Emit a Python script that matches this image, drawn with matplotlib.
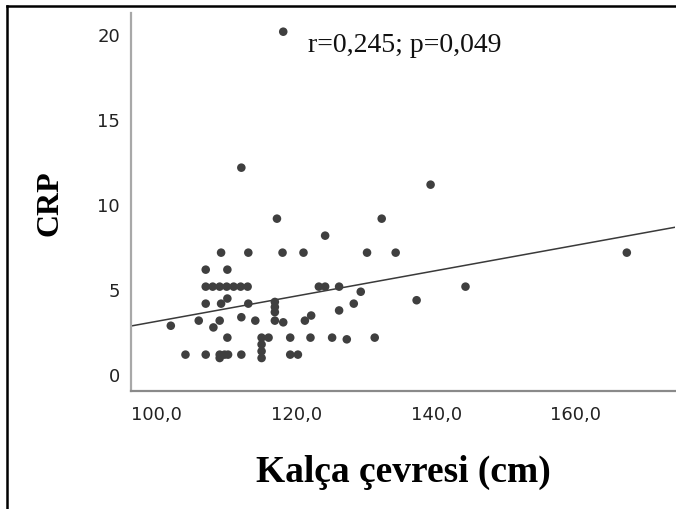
import numpy as np
import matplotlib
matplotlib.use("Agg")
import matplotlib.pyplot as plt
from matplotlib.lines import Line2D

# --- data (hip circumference vs CRP) ---
hip_cm = [
    118.1, 112.1, 139.2, 117.2, 132.2, 124.1,
    109.2, 113.1, 118.0, 121.0, 130.1, 134.2, 167.3,
    107.0, 110.1,
    107.0, 108.0, 109.0, 110.0, 111.0, 112.0, 113.0,
    123.2, 124.1, 126.1, 144.2,
    129.2, 110.1, 137.2,
    107.0, 109.2, 113.1, 116.9, 128.2, 116.9, 126.1, 116.9,
    122.1, 112.1,
    106.0, 109.0, 114.1, 116.9, 121.2, 118.1,
    102.0, 108.1,
    110.1, 115.0, 116.0, 119.1, 122.0, 125.1, 131.2, 127.2,
    115.0, 115.0,
    104.1, 107.0, 109.0, 109.7, 110.2, 112.1, 119.1, 120.2,
    109.0, 115.0,
]
crp = [
    20.2, 12.2, 11.2, 9.2, 9.2, 8.2,
    7.2, 7.2, 7.2, 7.2, 7.2, 7.2, 7.2,
    6.2, 6.2,
    5.2, 5.2, 5.2, 5.2, 5.2, 5.2, 5.2,
    5.2, 5.2, 5.2, 5.2,
    4.9, 4.5, 4.4,
    4.2, 4.2, 4.2, 4.3, 4.2, 4.0, 3.8, 3.7,
    3.5, 3.4,
    3.2, 3.2, 3.2, 3.2, 3.2, 3.1,
    2.9, 2.8,
    2.2, 2.2, 2.2, 2.2, 2.2, 2.2, 2.2, 2.1,
    1.8, 1.4,
    1.2, 1.2, 1.2, 1.2, 1.2, 1.2, 1.2, 1.2,
    1.0, 1.0,
]

x_ticks = [100, 120, 140, 160]
x_tick_labels = ["100,0", "120,0", "140,0", "160,0"]
y_ticks = [0, 5, 10, 15, 20]
stat_text = "r=0,245; p=0,049"

W, H = 676, 509
fig = plt.figure(figsize=(W / 100, H / 100), dpi=100)

# axes box in pixel terms of the reference
left, right, top, bottom = 131, 675, 13, 391
ax = fig.add_axes([left / W, 1 - bottom / H, (right - left) / W, (bottom - top) / H])
ax.set_xlim(96.3, 174.2)
ax.set_ylim(-0.94, 21.3)

ax.scatter(hip_cm, crp, s=38, color="#3f3f3f", edgecolors="none", zorder=3)

# linear fit line across the whole x range
slope, intercept = np.polyfit(hip_cm, crp, 1)
xs = np.array(ax.get_xlim())
ax.plot(xs, intercept + slope * xs, color="#3a3a3a", lw=1.1, zorder=2)

for side in ("top", "right"):
    ax.spines[side].set_visible(False)
ax.spines["left"].set_color("#a8a8a8")
ax.spines["left"].set_linewidth(1.6)
ax.spines["bottom"].set_color("#8a8a8a")
ax.spines["bottom"].set_linewidth(1.6)

ax.set_xticks(x_ticks)
ax.set_xticklabels(x_tick_labels)
ax.set_yticks(y_ticks)
ax.tick_params(axis="both", length=0, labelsize=13, labelcolor="#222222")
ax.tick_params(axis="x", pad=11)
ax.tick_params(axis="y", pad=8)

serif = ["Liberation Serif", "DejaVu Serif"]
fig.text(308 / W, 1 - 46 / H, stat_text, family=serif, fontsize=20,
         ha="left", va="center", color="#111111")
fig.text(50 / W, 1 - 203 / H, "CRP", family=serif, fontsize=23, fontweight="bold",
         rotation=90, ha="center", va="center")
fig.text(403 / W, 1 - 472 / H, "Kalça çevresi (cm)", family=serif, fontsize=27,
         fontweight="bold", ha="center", va="center")

# outer frame (only left and top edges are visible in the reference)
fig.add_artist(Line2D([7 / W, 7 / W], [0, 1 - 6 / H], color="black", lw=1.8,
                      transform=fig.transFigure))
fig.add_artist(Line2D([7 / W, 1], [1 - 6 / H, 1 - 6 / H], color="black", lw=1.8,
                      transform=fig.transFigure))

fig.savefig("out.png", dpi=100)
